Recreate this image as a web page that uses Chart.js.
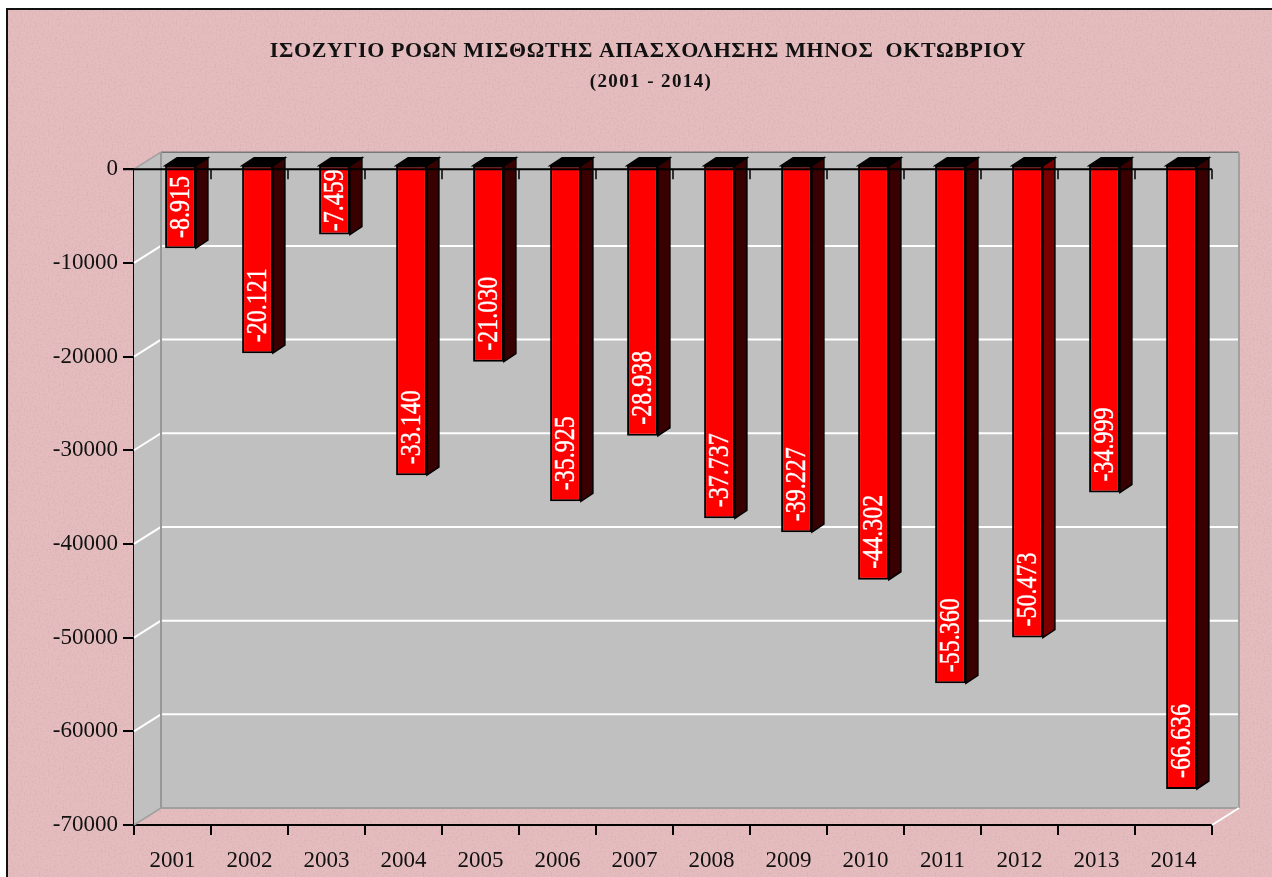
<!DOCTYPE html>
<html>
<head>
<meta charset="utf-8">
<script src="https://cdn.jsdelivr.net/npm/chart.js@4"></script>
<style>
html,body{margin:0;padding:0;background:#fff;overflow:hidden;}
#frame{position:absolute;left:6px;top:8px;width:1266px;height:869px;box-sizing:border-box;
 border-left:2px solid #111;border-top:2px solid #111;
 background-color:#e6bdbf;
 background-image:url("data:image/svg+xml;utf8,<svg xmlns='http://www.w3.org/2000/svg' width='128' height='128'><filter id='n' x='0' y='0' width='100%' height='100%'><feTurbulence type='fractalNoise' baseFrequency='0.55' numOctaves='2' seed='4' stitchTiles='stitch'/><feColorMatrix values='0 0 0 0 0.62  0 0 0 0 0.38  0 0 0 0 0.40  0 0 0 1.2 -0.52'/></filter><rect width='128' height='128' filter='url(%23n)'/></svg>");
}
#wrap{position:absolute;left:0;top:0;width:1272px;height:877px;}
</style>
</head>
<body>
<div id="frame"></div>
<div id="wrap"><canvas id="c" width="1272" height="877"></canvas></div>
<script>
const categories = ['2001','2002','2003','2004','2005','2006','2007','2008','2009','2010','2011','2012','2013','2014'];
const values = [-8915,-20121,-7459,-33140,-21030,-35925,-28938,-37737,-39227,-44302,-55360,-50473,-34999,-66636];
const titleText = 'ΙΣΟΖΥΓΙΟ ΡΟΩΝ ΜΙΣΘΩΤΗΣ ΑΠΑΣΧΟΛΗΣΗΣ ΜΗΝΟΣ  ΟΚΤΩΒΡΙΟΥ';
const subtitleText = '(2001 - 2014)';
const lighterSides = ['2012'];

const SERIF = '"Liberation Serif","DejaVu Serif",serif';
const WALL = {dx:27, dy:-17};
const BAR_SHIFT = {dx:8, dy:-4.5};
const BAR_DEPTH = {dx:12, dy:-8};

function fmt(v){
  const s = String(Math.abs(v)).replace(/\B(?=(\d{3})+$)/g,'.');
  return (v<0?'-':'')+s;
}
function poly(ctx,pts,fill,stroke,lw){
  ctx.beginPath();
  pts.forEach((p,i)=> i?ctx.lineTo(p[0],p[1]):ctx.moveTo(p[0],p[1]));
  ctx.closePath();
  if(fill){ctx.fillStyle=fill;ctx.fill();}
  if(stroke){ctx.strokeStyle=stroke;ctx.lineWidth=lw||1;ctx.stroke();}
}
function line(ctx,x1,y1,x2,y2,color,lw){
  ctx.beginPath();ctx.moveTo(x1,y1);ctx.lineTo(x2,y2);
  ctx.strokeStyle=color;ctx.lineWidth=lw;ctx.stroke();
}

const walls3d = {
  id:'walls3d',
  afterLayout(chart){
    if(chart.$titlesTuned) return;
    chart.$titlesTuned = true;
    chart.boxes.forEach(b=>{
      if(b.options && b.options.text!==undefined){
        const isTitle = b.options.text===titleText;
        b.right += isTitle ? 84 : 90;
        const orig = b.draw;
        const sp = isTitle ? '0.6px' : '1.4px';
        b.draw = function(){
          chart.ctx.letterSpacing = sp;
          orig.call(b);
          chart.ctx.letterSpacing = '0px';
        };
      }
    });
  },
  beforeDatasetsDraw(chart){
    const {ctx,chartArea:a,scales:{y}} = chart;
    const d = WALL;
    ctx.save();
    poly(ctx,[[a.left,a.top],[a.left+d.dx,a.top+d.dy],[a.left+d.dx,a.bottom+d.dy],[a.left,a.bottom]],'#c0c0c0');
    poly(ctx,[[a.left+d.dx,a.top+d.dy],[a.right+d.dx,a.top+d.dy],[a.right+d.dx,a.bottom+d.dy],[a.left+d.dx,a.bottom+d.dy]],'#c0c0c0');
    y.ticks.forEach(t=>{
      if(t.value===0||t.value===y.min) return;
      const py=y.getPixelForValue(t.value);
      line(ctx,a.left+d.dx,py+d.dy,a.right+d.dx,py+d.dy,'#ffffff',2);
      line(ctx,a.left,py,a.left+d.dx,py+d.dy,'#ffffff',2);
    });
    line(ctx,a.left+d.dx,a.top+d.dy,a.right+d.dx,a.top+d.dy,'#777777',1.5);
    line(ctx,a.left+d.dx,a.top+d.dy,a.left+d.dx,a.bottom+d.dy,'#989898',2);
    line(ctx,a.right+d.dx,a.top+d.dy,a.right+d.dx,a.bottom+d.dy,'#a0a0a0',2);
    line(ctx,a.left+d.dx,a.bottom+d.dy,a.right+d.dx,a.bottom+d.dy,'#a0a0a0',2);
    line(ctx,a.left,a.top,a.left+d.dx,a.top+d.dy,'#a0a0a0',1.5);
    line(ctx,a.left,a.bottom,a.left+d.dx,a.bottom+d.dy,'#a0a0a0',1.5);
    line(ctx,a.right,a.bottom,a.right+d.dx,a.bottom+d.dy,'#ffffff',2);
    ctx.restore();
    ctx.save();
    ctx.translate(BAR_SHIFT.dx,BAR_SHIFT.dy);
    chart.getDatasetMeta(0).data.forEach((b,i)=>{
      const l=b.x-b.width/2, r=b.x+b.width/2, t=b.base, bt=b.y, dx=BAR_DEPTH.dx, dy=BAR_DEPTH.dy;
      const side = lighterSides.includes(categories[i]) ? '#7a0000' : '#380000';
      poly(ctx,[[r,t],[r+dx,t+dy],[r+dx,bt+dy],[r,bt]],side,'#000',1.5);
      poly(ctx,[[l,t],[l+dx,t+dy],[r+dx,t+dy],[r,t]],'#000000','#000',1.5);
    });
  },
  afterDatasetsDraw(chart){
    chart.ctx.restore();
    const {ctx,chartArea:a,scales:{x,y}} = chart;
    const meta = chart.getDatasetMeta(0);
    meta.data.forEach((b,i)=>{
      const v = values[i];
      const txt = fmt(v);
      ctx.save();
      ctx.font='30px '+SERIF;
      const textLen = ctx.measureText(txt).width*0.8;
      const barLen = Math.abs(b.y-b.base);
      const gap = Math.min(11,(barLen-textLen)/2);
      ctx.translate(b.x+BAR_SHIFT.dx, b.y+BAR_SHIFT.dy-gap);
      ctx.rotate(-Math.PI/2);
      ctx.scale(0.8,1);
      ctx.fillStyle='#ffffff';
      ctx.strokeStyle='#ffffff';
      ctx.lineWidth=0.4;
      ctx.textAlign='left';
      ctx.textBaseline='middle';
      ctx.fillText(txt,0,1);
      ctx.strokeText(txt,0,1);
      ctx.restore();
    });
    ctx.save();
    const y0=y.getPixelForValue(0);
    line(ctx,a.left-11,y0,a.right,y0,'#000',2);
    const half=(x.getPixelForValue(1)-x.getPixelForValue(0))/2;
    categories.forEach((c,i)=>{
      const px=x.getPixelForValue(i)+half;
      line(ctx,px,y0,px,y0+10,'#000',1.5);
    });
    ctx.restore();
  }
};

new Chart(document.getElementById('c'),{
  type:'bar',
  data:{labels:categories,datasets:[{
    data:values,
    backgroundColor:'#ff0000',
    borderColor:'#000000',
    borderWidth:2,
    borderSkipped:false,
    barPercentage:0.4,
    categoryPercentage:1
  }]},
  plugins:[walls3d],
  options:{
    responsive:false,
    animation:false,
    layout:{padding:{top:0,left:0,right:60,bottom:0}},
    plugins:{
      legend:{display:false},
      tooltip:{enabled:false},
      title:{display:true,text:titleText,color:'#111',
        font:{family:SERIF,size:22,weight:'bold'},padding:{top:38,bottom:6}},
      subtitle:{display:true,text:subtitleText,color:'#111',
        font:{family:SERIF,size:19,weight:'bold'},padding:{top:0,bottom:76}}
    },
    scales:{
      x:{
        afterFit(s){s.height=52;},
        grid:{drawOnChartArea:false,drawTicks:true,tickLength:10,color:'#000',lineWidth:2},
        border:{display:true,color:'#000',width:2},
        ticks:{color:'#111',font:{family:SERIF,size:23},padding:12,autoSkip:false,maxRotation:0}
      },
      y:{
        min:-70000,max:0,
        afterFit(s){s.width=134;},
        grid:{drawOnChartArea:false,drawTicks:true,tickLength:11,color:'#000',lineWidth:2},
        border:{display:true,color:'#000',width:2},
        ticks:{color:'#111',font:{family:SERIF,size:23},padding:5,stepSize:10000,
          callback:v=>String(v)}
      }
    }
  }
});
</script>
</body>
</html>
